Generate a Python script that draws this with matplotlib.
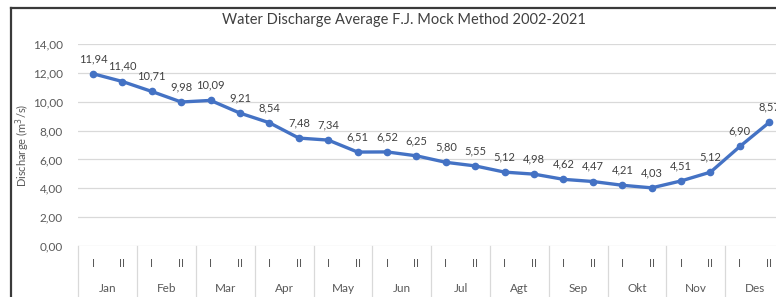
import matplotlib
matplotlib.use("Agg")
import matplotlib.pyplot as plt
from matplotlib.lines import Line2D

plt.rcParams['font.family'] = ['Lato', 'DejaVu Sans']

months = ["Jan", "Feb", "Mar", "Apr", "May", "Jun", "Jul", "Agt", "Sep", "Okt", "Nov", "Des"]
halves = ["I", "II"]
discharge = [11.94, 11.40, 10.71, 9.98, 10.09, 9.21, 8.54, 7.48, 7.34, 6.51, 6.52, 6.25,
             5.80, 5.55, 5.12, 4.98, 4.62, 4.47, 4.21, 4.03, 4.51, 5.12, 6.90, 8.57]
yticks = [0, 2, 4, 6, 8, 10, 12, 14]

W, H = 776, 297
fig = plt.figure(figsize=(W / 100, H / 100), dpi=100)
fig.patch.set_facecolor("white")

left_px, right_px, top_px, bottom_px = 78.3, 784.0, 44.0, 246.0
ax = fig.add_axes([left_px / W, 1 - bottom_px / H, (right_px - left_px) / W, (bottom_px - top_px) / H])

n = len(discharge)
x = list(range(n))
line_color = "#4472C4"
ax.plot(x, discharge, color=line_color, lw=2.4, marker="o", ms=4.5, zorder=3, clip_on=False)

for xi, v in zip(x, discharge):
    ax.annotate(f"{v:.2f}".replace(".", ","), (xi, v), xytext=(0, 7), textcoords="offset points",
                ha="center", va="bottom", fontsize=8, color="#404040", annotation_clip=False)

ax.set_xlim(-0.5, n - 0.5)
ax.set_ylim(0, 14)
ax.set_yticks(yticks)
ax.set_yticklabels([f"{t:.2f}".replace(".", ",") for t in yticks], fontsize=8.5, color="#595959")
ax.tick_params(axis="y", length=0, pad=11)
ax.grid(axis="y", color="#d9d9d9", lw=0.9)
ax.set_axisbelow(True)
for s in ax.spines.values():
    s.set_visible(False)

# x axis: two-level category labels
ax.set_xticks(x)
ax.set_xticklabels([halves[i % 2] for i in x], fontsize=8, color="#595959")
ax.set_xticks([2 * i + 0.5 for i in range(len(months))], minor=True)
ax.set_xticklabels(months, minor=True, fontsize=8.5, color="#595959")
ax.tick_params(axis="x", which="major", length=0, pad=8.5)
ax.tick_params(axis="x", which="minor", length=0, pad=26.5)

trans = ax.get_xaxis_transform()
for b in range(len(months) + 1):
    ax.plot([2 * b - 0.5, 2 * b - 0.5], [0, -0.27], transform=trans, color="#d9d9d9", lw=0.9, clip_on=False)

ax.set_ylabel("Discharge (m$^3$/s)", fontsize=8, color="#595959")
ax.yaxis.set_label_coords(-0.066, 0.5)

fig.text(404 / W, 1 - 20 / H, "Water Discharge Average F.J. Mock Method 2002-2021",
         ha="center", va="center", fontsize=10.5, color="#404040")

# outer chart frame (cropped)
fig.add_artist(Line2D([11 / W, 11 / W], [0, 1 - 8 / H], transform=fig.transFigure, color="#3a3a3a", lw=1.6))
fig.add_artist(Line2D([11 / W, 1.0], [1 - 8 / H, 1 - 8 / H], transform=fig.transFigure, color="#3a3a3a", lw=1.6))

fig.savefig("out.png", dpi=100, facecolor="white")
